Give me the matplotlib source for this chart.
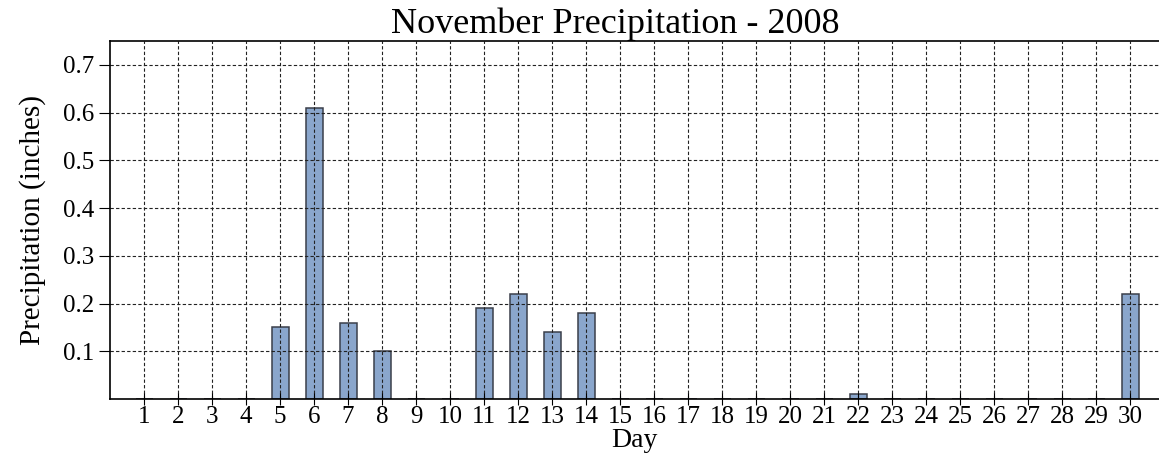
import numpy as np
import matplotlib.pyplot as plt

plt.rcParams['font.family'] = ['Liberation Serif', 'DejaVu Serif']

days = list(range(1, 31))
precip = [0, 0, 0, 0, 0.15, 0.61, 0.16, 0.10, 0, 0,
          0.19, 0.22, 0.14, 0.18, 0, 0, 0, 0, 0, 0,
          0, 0.01, 0, 0, 0, 0, 0, 0, 0, 0.22]
yticks = [0.1, 0.2, 0.3, 0.4, 0.5, 0.6, 0.7]

fig = plt.figure(figsize=(11.59, 4.57), dpi=100)
ax = fig.add_axes([0.095, 0.127, 0.905, 0.783])

ax.bar(days, precip, width=0.5, color="#8aa6cc", edgecolor="#3a3f4a", linewidth=1.1, zorder=2)

ax.set_xlim(0, 30.85)
ax.set_ylim(0, 0.75)
ax.set_xticks(days)
ax.set_yticks(yticks)
ax.set_yticklabels([str(v) for v in yticks])
ax.grid(True, linestyle=(0, (3, 2)), color="#222222", linewidth=0.8, zorder=3)
ax.set_axisbelow(False)

ax.spines['right'].set_visible(False)
for s in ['left', 'bottom', 'top']:
    ax.spines[s].set_linewidth(1.2)
    ax.spines[s].set_zorder(4)
ax.tick_params(axis='x', direction='inout', length=8, labelsize=18, pad=1)
ax.tick_params(axis='y', direction='out', length=8, labelsize=18)

# title sits a bit left of the axes centre in the original
fig.text(0.531, 0.948, "November Precipitation - 2008", fontsize=26, ha="center", va="center")
ax.set_xlabel("Day", fontsize=20, labelpad=0)
ax.set_ylabel("Precipitation (inches)", fontsize=21, labelpad=12)

fig.savefig("out.png")
plt.close(fig)
